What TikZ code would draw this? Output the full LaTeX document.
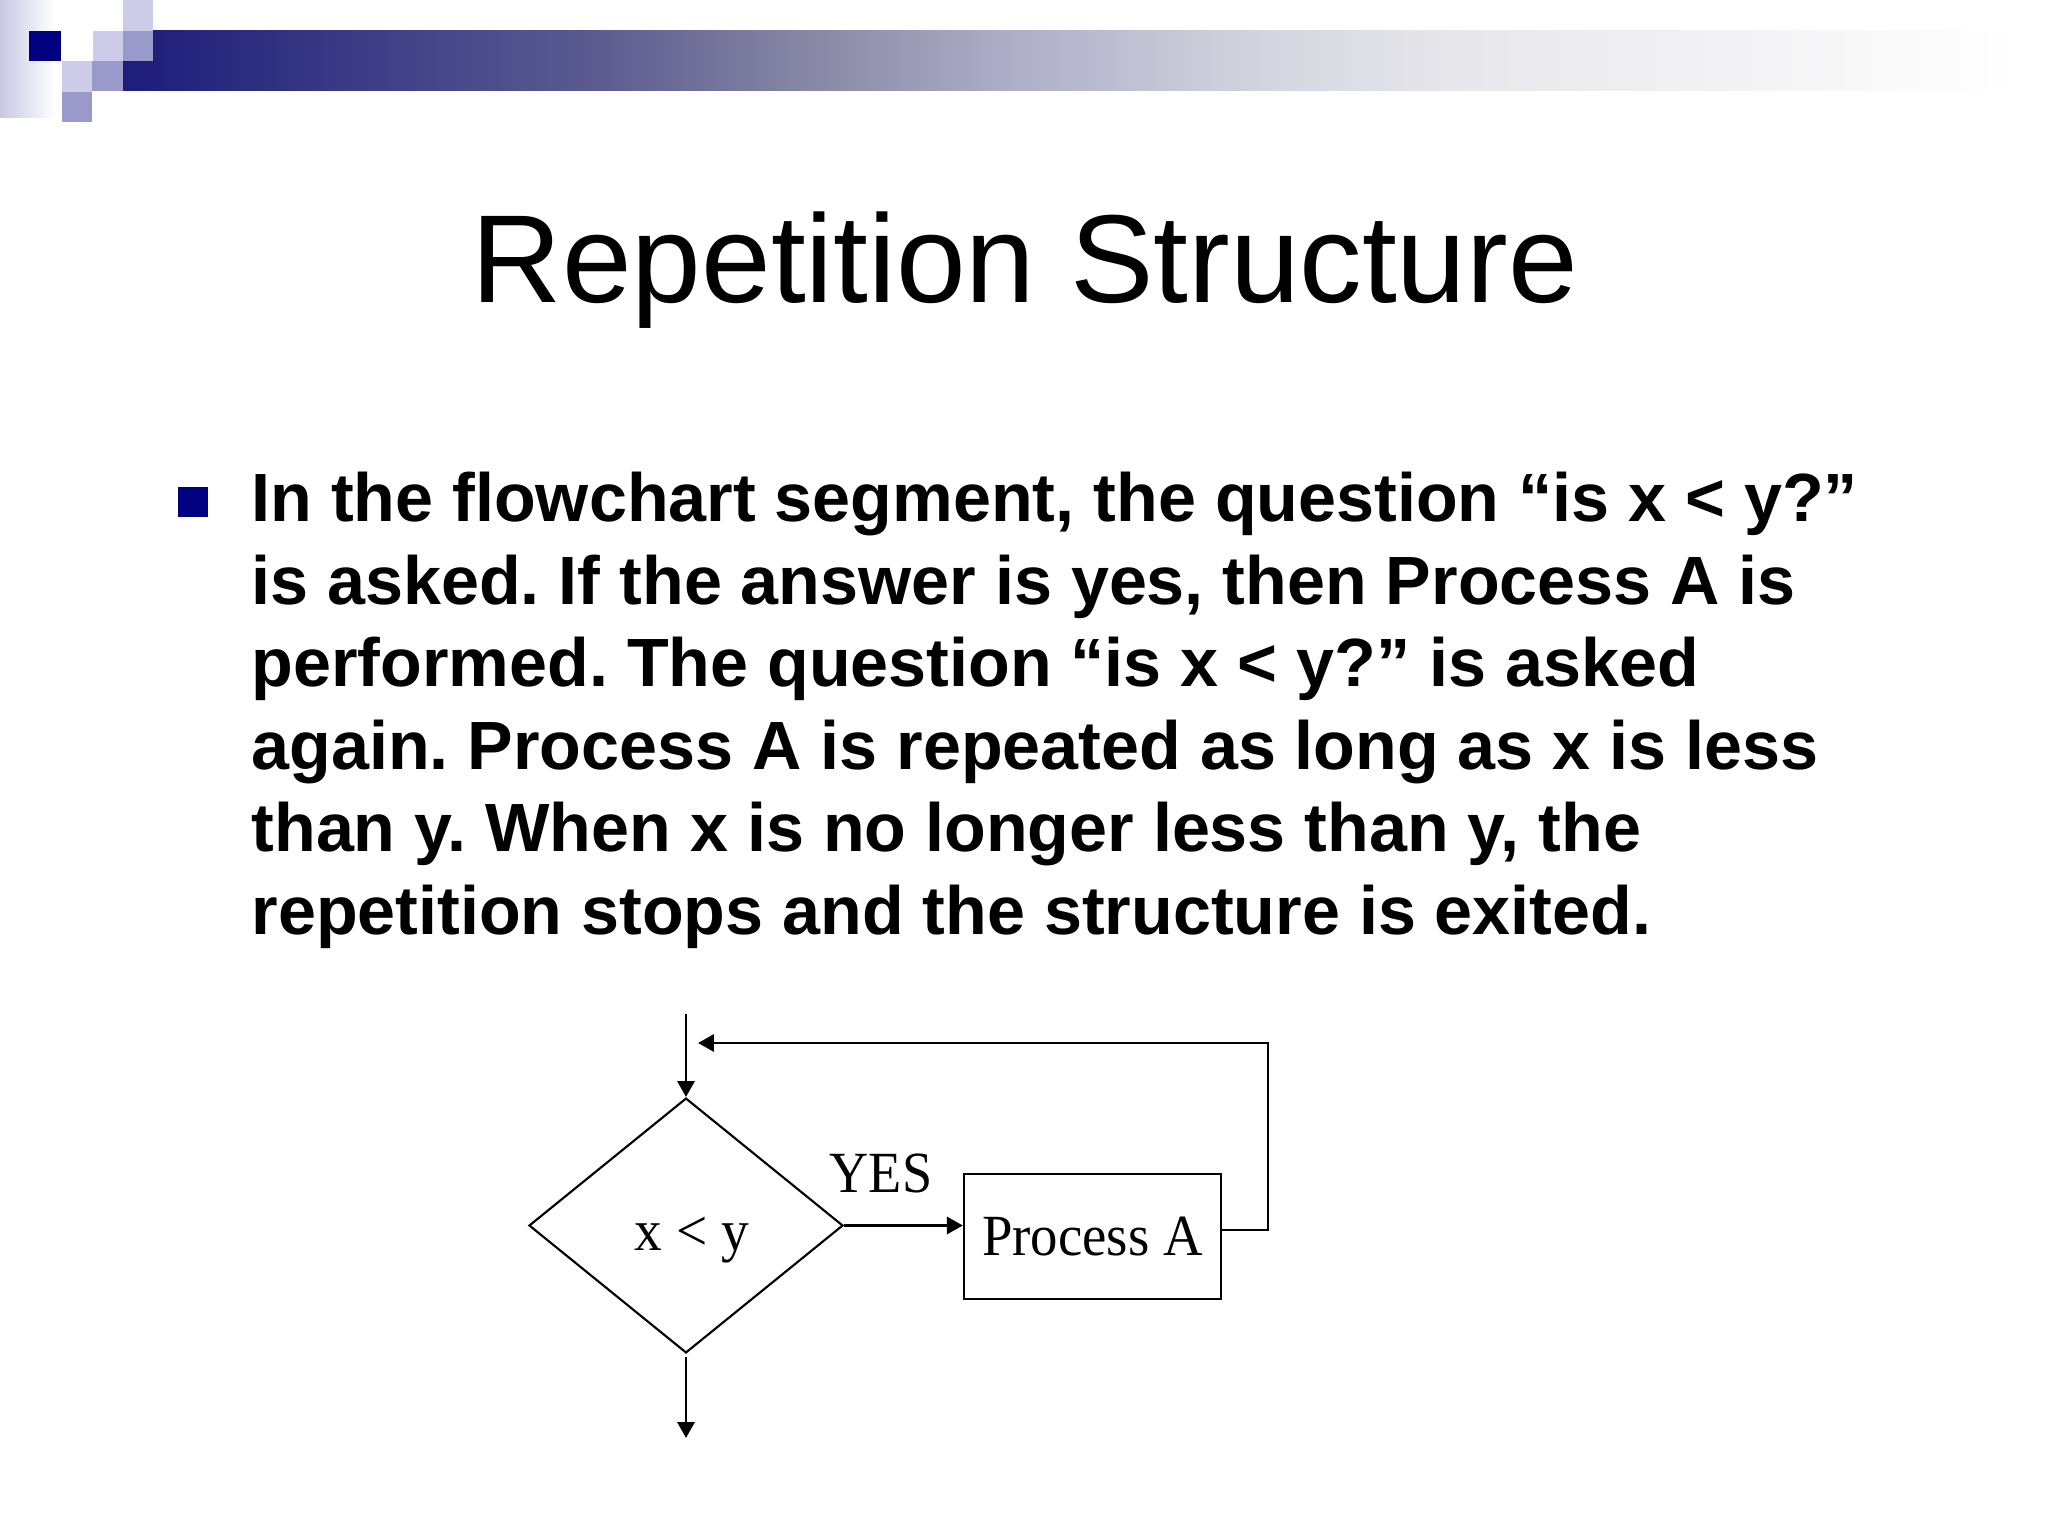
\documentclass[tikz,border=0pt]{standalone}
\usepackage{fontspec}
\setmainfont{Liberation Serif}
\newfontfamily\arialfont{Liberation Sans}
\usepackage{graphicx}
\usetikzlibrary{shapes.geometric,arrows.meta,calc}
\definecolor{navy}{RGB}{0,0,128}
\definecolor{lightsq}{RGB}{204,204,232}
\definecolor{medsq}{RGB}{153,153,204}
\definecolor{stripcol}{RGB}{200,200,228}
\definecolor{bgA}{RGB}{28,28,122}
\definecolor{bgB}{RGB}{62,62,135}
\definecolor{bgC}{RGB}{92,92,145}
\definecolor{bgD}{RGB}{135,135,165}
\definecolor{bgE}{RGB}{172,172,198}
\definecolor{bgF}{RGB}{213,213,224}
\definecolor{bgG}{RGB}{232,232,236}
\definecolor{bgH}{RGB}{243,243,245}
\pgfdeclarehorizontalshading{barshade}{100bp}{color(0bp)=(bgA); color(25bp)=(bgA); color(31.7bp)=(bgB); color(37.6bp)=(bgC); color(43bp)=(bgD); color(48.1bp)=(bgE); color(55.2bp)=(bgF); color(60.5bp)=(bgG); color(67.6bp)=(bgH); color(75bp)=(white); color(100bp)=(white)}
\tikzset{
  flowline/.style={line width=1pt,-{Triangle[length=5.6pt,width=6pt]}},
  shapeline/.style={draw,line width=0.75pt},
  lsq/.style={fill=lightsq},
  msq/.style={fill=medsq},
  diagfont/.style={font=\fontsize{20.5pt}{24pt}\selectfont}
}
\begin{document}
\frenchspacing
\begin{tikzpicture}[x=0.3515625pt,y=-0.3515625pt]
\useasboundingbox (0,0) rectangle (2048,1536);
\fill[white] (0,0) rectangle (2048,1536);
% header decoration
\shade[left color=stripcol,right color=white] (0,0) rectangle (55,118);
\shade[shading=barshade] (123,31) rectangle (2020,91);
\fill[navy] (29,31) rectangle (61,61);
\fill[lsq] (123,0) rectangle (153,31);
\fill[lsq] (93,31) rectangle (123,61);
\fill[msq] (123,31) rectangle (153,61);
\fill[lsq] (62,61) rectangle (92,92);
\fill[msq] (92,61) rectangle (123,91);
\fill[msq] (62,92) rectangle (92,122);
% title
\node[font=\arialfont\fontsize{44pt}{53pt}\selectfont,anchor=base,inner sep=0] (title) at (1025,303) {Repetition Structure};
% bullet text
\node[fill=navy,minimum size=10.5pt,inner sep=0] (bullet) at (193,502) {};
\node[anchor=base west,inner sep=0] (body) at (251,522) {\parbox[t]{640pt}{\arialfont\bfseries\fontsize{24pt}{29pt}\selectfont\frenchspacing
In the flowchart segment, the question “is x < y?”\\
is asked. If the answer is yes, then Process A is\\
performed. The question “is x < y?” is asked\\
again. Process A is repeated as long as x is less\\
than y. When x is no longer less than y, the\\
repetition stops and the structure is exited.}};
% flowchart
\node[diamond,shapeline,minimum width=110.4pt,minimum height=89.6pt,inner sep=0] (dec) at (686,1225.5) {};
\node[diagfont,anchor=base,inner sep=0] (cond) at (692,1250) {\scalebox{0.95}[1]{x < y}};
\node[shapeline,diagfont,minimum width=90.4pt,minimum height=43.9pt,inner sep=0] (proc) at (1092.5,1236.5) {\scalebox{0.94}[1]{Process A}};
\node[diagfont,anchor=base,inner sep=0] (yes) at (881,1192) {\scalebox{0.93}[1]{YES}};
\coordinate (entry) at ($(dec.north)+(0,-83)$);
\coordinate (fbend) at (698,1043);
\coordinate (fbtop) at (1268,1043);
\coordinate (fbbot) at (1268,1230);
\coordinate (exitpt) at ($(dec.south)+(0,84)$);
\draw[flowline] (entry) -- (dec.north);
\draw[flowline] (dec.east) -- (dec.east -| proc.west);
\draw[flowline] (proc.east |- fbbot) -- (fbbot) -- (fbtop) -- (fbend);
\draw[flowline] ($(dec.south)+(0,3)$) -- (exitpt);
\end{tikzpicture}
\end{document}
